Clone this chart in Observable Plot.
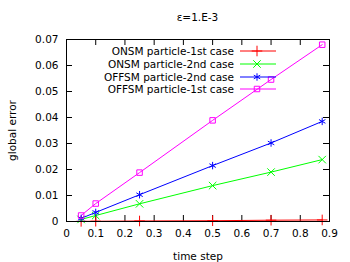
<!DOCTYPE html>
<html><head><meta charset="utf-8">
<script src="https://cdn.jsdelivr.net/npm/d3@7"></script>
<script src="https://cdn.jsdelivr.net/npm/@observablehq/plot@0.6"></script>
<style>
body{margin:0;background:#fff;font-family:"DejaVu Sans",sans-serif;}
#wrap{position:relative;width:350px;height:262px;}
#title{position:absolute;left:0;width:350px;top:11px;text-align:center;font-size:10.5px;padding-left:45px;box-sizing:border-box;}
#legend{position:absolute;left:60px;top:45px;font-size:10.5px;}
.row{display:flex;align-items:center;height:12.7px;justify-content:flex-end;}
.row span{display:inline-block;text-align:right;}
.row svg{margin-left:6px;}
</style></head>
<body><div id="wrap"><div id="title">ε=1.E-3</div><div id="legend"></div></div>
<script>
const timeSteps = [0.05, 0.1, 0.25, 0.5, 0.7, 0.875];
const seriesNames = ["ONSM particle-1st case", "ONSM particle-2nd case", "OFFSM particle-2nd case", "OFFSM particle-1st case"];
const onsm1 = [0.00005, 0.0001, 0.0002, 0.0003, 0.0005, 0.0006];
const onsm2 = [0.0008, 0.0023, 0.0068, 0.0138, 0.019, 0.0238];
const offsm2 = [0.0012, 0.0035, 0.0103, 0.0215, 0.0302, 0.0385];
const offsm1 = [0.0023, 0.0069, 0.0188, 0.0389, 0.0546, 0.068];
const colors = ["#ff0000", "#00ff00", "#0000ff", "#ff00ff"];
const symbols = ["plus", "times", "asterisk", "square2"];
const xTicks = [0, 0.1, 0.2, 0.3, 0.4, 0.5, 0.6, 0.7, 0.8, 0.9];
const yTicks = [0, 0.01, 0.02, 0.03, 0.04, 0.05, 0.06, 0.07];

const allSeries = [onsm1, onsm2, offsm2, offsm1];
const data = [];
allSeries.forEach((vals, i) => vals.forEach((v, j) => data.push({series: seriesNames[i], x: timeSteps[j], y: v})));

const fmt = d => d === 0 ? "0" : String(d);
const tickLenY = 0.07 * 6 / 182, tickLenX = 0.9 * 6 / 263;
const plot = Plot.plot({
  width: 350, height: 262,
  marginLeft: 66, marginRight: 21, marginTop: 39, marginBottom: 41,
  style: {fontFamily: "DejaVu Sans, sans-serif", fontSize: "10.5px", color: "#000", background: "#fff"},
  x: {domain: [0, 0.9]},
  y: {domain: [0, 0.07]},
  color: {domain: seriesNames, range: colors},
  symbol: {domain: seriesNames, range: symbols},
  marks: [
    Plot.axisX({ticks: xTicks, tickSize: 0, tickPadding: 8, tickFormat: fmt, label: "time step", labelAnchor: "center", labelArrow: "none", labelOffset: 38, fontSize: 10.5}),
    Plot.axisY({ticks: yTicks, tickSize: 0, tickPadding: 8, tickFormat: fmt, label: "global error", labelAnchor: "center", labelArrow: "none", labelOffset: 58, fontSize: 10.5}),
    Plot.ruleX(xTicks, {x: d => d, y1: 0, y2: tickLenY, stroke: "#000"}),
    Plot.ruleX(xTicks, {x: d => d, y1: 0.07, y2: 0.07 - tickLenY, stroke: "#000"}),
    Plot.ruleY(yTicks, {y: d => d, x1: 0, x2: tickLenX, stroke: "#000"}),
    Plot.ruleY(yTicks, {y: d => d, x1: 0.9, x2: 0.9 - tickLenX, stroke: "#000"}),
    Plot.line(data, {x: "x", y: "y", stroke: "series", strokeWidth: 1}),
    Plot.dot(data, {x: "x", y: "y", stroke: "series", symbol: "series", r: 3.5, strokeWidth: 1}),
    Plot.frame({stroke: "#000"})
  ]
});
document.getElementById("wrap").prepend(plot);

const leg = document.getElementById("legend");
const symMap = {plus: d3.symbolPlus, times: d3.symbolTimes, asterisk: d3.symbolAsterisk, square2: d3.symbolSquare2};
seriesNames.forEach((name, i) => {
  const row = document.createElement("div");
  row.className = "row";
  row.style.width = "216px";
  const s = document.createElement("span");
  s.textContent = name;
  row.appendChild(s);
  const svg = d3.create("svg").attr("width", 36).attr("height", 12);
  svg.append("line").attr("x1", 0).attr("x2", 36).attr("y1", 6).attr("y2", 6).attr("stroke", colors[i]);
  svg.append("path").attr("transform", "translate(17,6)").attr("d", d3.symbol(symMap[symbols[i]], Math.PI * 12.25)()).attr("fill", "none").attr("stroke", colors[i]);
  row.appendChild(svg.node());
  leg.appendChild(row);
});
</script></body></html>
